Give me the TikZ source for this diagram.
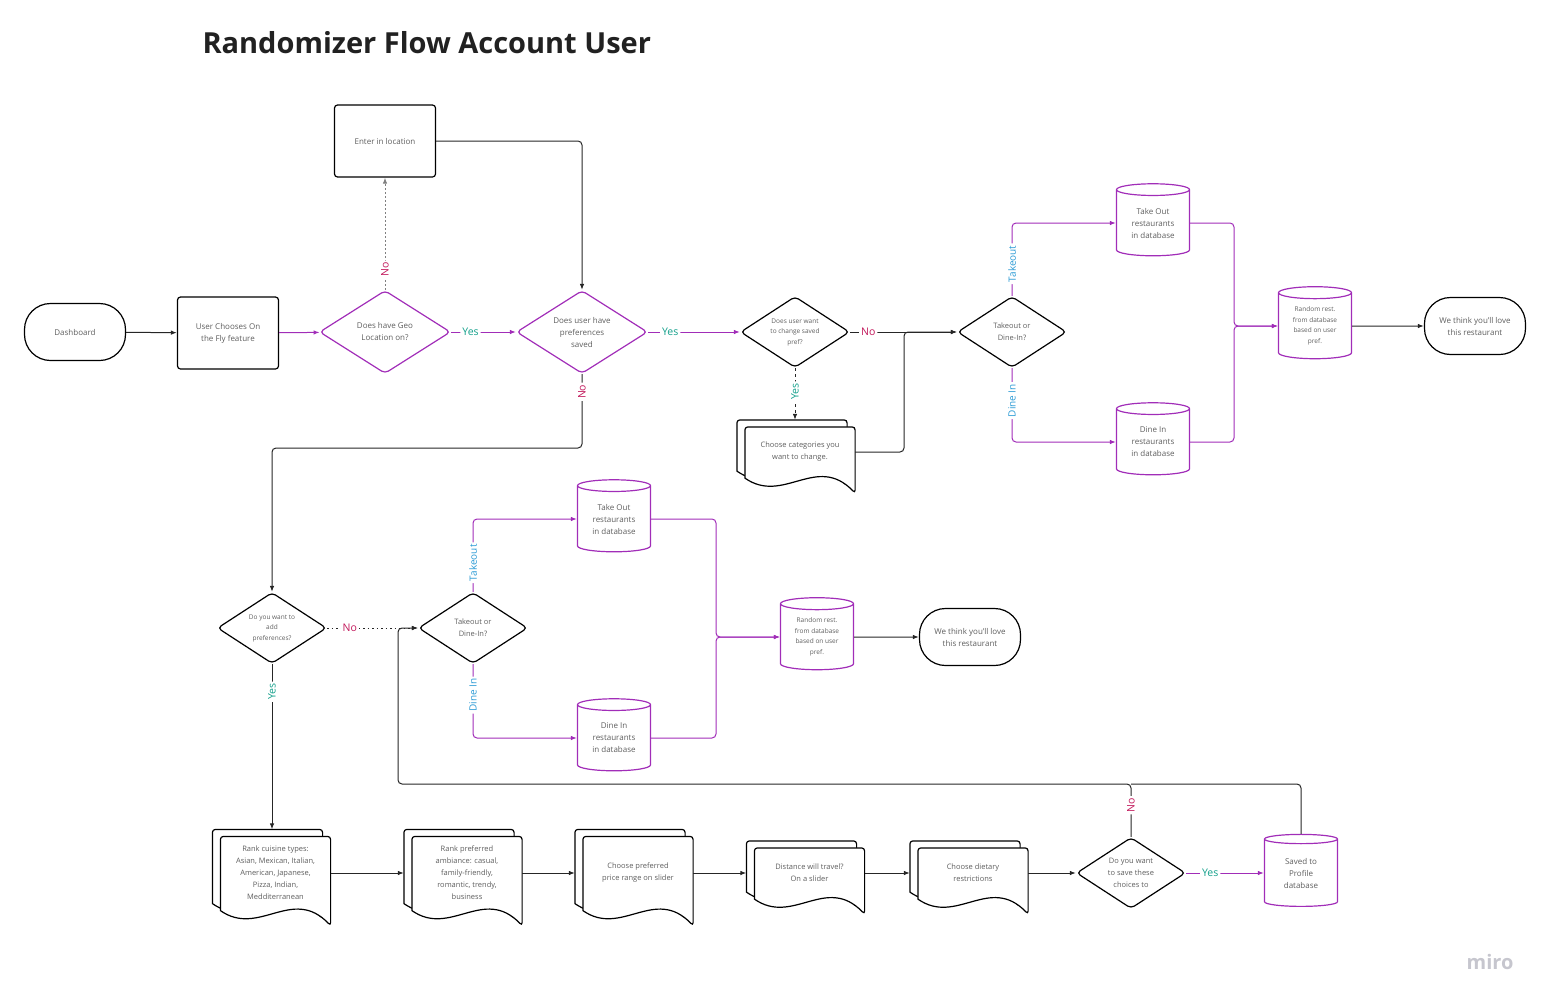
\documentclass[tikz,border=0pt]{standalone}
\usepackage{fontspec}
\setmainfont{Open Sans}
\usetikzlibrary{arrows.meta,shapes.geometric,calc}
\pgfdeclarelayer{background}
\pgfsetlayers{background,main}
\definecolor{flowpurple}{HTML}{A12DB8}
\definecolor{yesgreen}{HTML}{13A08B}
\definecolor{nored}{HTML}{C2185B}
\definecolor{takeblue}{HTML}{2E9CD6}
\definecolor{textgrey}{HTML}{5E5E5E}
\definecolor{mirogrey}{HTML}{C6C6CE}
\tikzset{base/.style={align=center,text=textgrey,font=\fontsize{8}{12}\selectfont,inner sep=0pt,line width=1.2pt},
	terminal/.style={base,draw,rounded corners=26pt,minimum width=101pt,minimum height=57pt},
	process/.style={base,draw,rounded corners=3pt,minimum width=101pt,minimum height=72pt},
	decision/.style={base,diamond,draw,rounded corners=4pt,aspect=1.5,minimum width=109pt,minimum height=71pt,font=\fontsize{7.5}{12}\selectfont},
	bigdecision/.style={decision,draw=flowpurple,minimum width=131pt,minimum height=83pt,font=\fontsize{8}{12}\selectfont},
	dbase/.style={base,cylinder,shape border rotate=90,aspect=0.27,draw=flowpurple,minimum width=73pt,minimum height=72pt},
	docsheet/.style={base,font=\fontsize{7.5}{12}\selectfont,minimum width=109pt,minimum height=49pt},
	tall/.style={minimum height=72pt},
	small/.style={font=\fontsize{6.5}{10.5}\selectfont},
	link/.style={line width=1pt,rounded corners=4pt},
	yeslabel/.style={text=yesgreen,fill=white,font=\fontsize{10.5}{12}\selectfont,inner sep=2pt},
	nolabel/.style={yeslabel,text=nored},
	optlabel/.style={yeslabel,text=takeblue,font=\fontsize{10}{12}\selectfont},
	hv/.style={to path={-| (\tikztotarget) \tikztonodes}},
	vh/.style={to path={|- (\tikztotarget) \tikztonodes}}}
% document sheet with wavy bottom, #2 is the offset of the sheet
\newcommand\docpage[2]{%
	\path[draw,fill=white,line width=1.2pt] let \p1=($(#1.north west)+(#2)$), \p2=($(#1.south east)+(#2)$), \n1={\x2-\x1} in
	[rounded corners=3pt] (\x1,\y1) -- (\x2,\y1) -- ({\x2},{\y2-16pt})
	[sharp corners] .. controls ({\x1+0.65*\n1},{\y2+24pt}) and ({\x1+0.35*\n1},{\y2-28pt}) .. ({\x1},{\y2-1pt})
	[rounded corners=3pt] -- cycle;}
\begin{document}
\begin{tikzpicture}[x=1pt,y=-1pt,>={Latex[length=6pt,width=4.5pt]}]
	\useasboundingbox (0,0) rectangle (1551,1007);
	\node[anchor=west,font=\fontsize{29}{34}\bfseries\selectfont,text=black!87] (title) at (199,43) {Randomizer Flow Account User};
	\node[text=mirogrey,font=\fontsize{20}{24}\bfseries\selectfont] (miro) at (1490,962) {miro};
	% upper flow
	\node[terminal] (dash) at (75,332) {Dashboard};
	\node[process] (onfly) at (228,333) {User Chooses On\\the Fly feature};
	\node[bigdecision] (geo) at (385,332) {Does have Geo\\Location on?};
	\node[process] (loc) at (385,141) {Enter in location};
	\node[bigdecision] (prefs) at (582,332) {Does user have\\preferences\\saved};
	\node[decision,small] (change) at (795,332) {Does user want\\to change saved\\pref?};
	\node[docsheet] (categ) at (800,452) {Choose categories you\\want to change.};
	\node[decision] (tk1) at (1012,332) {Takeout or\\Dine-In?};
	\node[dbase] (to1) at (1153,223) {Take Out\\restaurants\\in database};
	\node[dbase] (di1) at (1153,442) {Dine In\\restaurants\\in database};
	\node[dbase,small] (rnd1) at (1315,326) {Random rest.\\from database\\based on user\\pref.};
	\node[terminal] (love1) at (1475,326) {We think you'll love\\this restaurant};
	% middle flow
	\node[decision,small] (addp) at (272,628) {Do you want to\\add\\preferences?};
	\node[decision] (tk2) at (473,628) {Takeout or\\Dine-In?};
	\node[dbase] (to2) at (614,519) {Take Out\\restaurants\\in database};
	\node[dbase] (di2) at (614,738) {Dine In\\restaurants\\in database};
	\node[dbase,small] (rnd2) at (817,637) {Random rest.\\from database\\based on user\\pref.};
	\node[terminal] (love2) at (970,637) {We think you'll love\\this restaurant};
	% lower flow
	\node[docsheet,tall] (cuisine) at (275.5,873) {Rank cuisine types:\\Asian, Mexican, Italian,\\American, Japanese,\\Pizza, Indian,\\Medditerranean};
	\node[docsheet,tall] (ambiance) at (467,873) {Rank preferred\\ambiance: casual,\\family-friendly,\\romantic, trendy,\\business};
	\node[docsheet,tall] (price) at (638,873) {Choose preferred\\price range on slider};
	\node[docsheet] (dist) at (809.5,873) {Distance will travel?\\On a slider};
	\node[docsheet] (diet) at (973,873) {Choose dietary\\restrictions};
	\node[decision] (save) at (1131,873) {Do you want\\to save these\\choices to};
	\node[dbase] (saved) at (1301,873) {Saved to\\Profile\\database};
	\begin{pgfonlayer}{background}
		\foreach \d in {categ,cuisine,ambiance,price,dist,diet}{
			\docpage{\d}{-8pt,7pt}
			\docpage{\d}{0pt,0pt}
		}
	\end{pgfonlayer}
	\coordinate (j1) at (904,332);
	\coordinate (j2) at (1234,326);
	\coordinate (c3) at (582,448);
	\coordinate (j4) at (716,637);
	\coordinate (c6) at (398,784);
	\begin{scope}[every edge/.style={draw,link},black!85]
		\path [->] (dash) edge (onfly);
		\path [->,flowpurple] (onfly) edge (geo);
		\path [->,flowpurple] (geo) edge node[yeslabel,pos=0.3] {Yes} (prefs);
		\path [->,gray,dash pattern=on 2pt off 2pt] (geo) edge node[nolabel,rotate=90,pos=0.18] {No} (loc);
		\path [->] (loc.east) edge[hv] (prefs.north);
		\path [->,flowpurple] (prefs) edge node[yeslabel,pos=0.24] {Yes} (change);
		\path [->] (change) edge node[nolabel,pos=0.17] {No} (tk1);
		\path [->,dash pattern=on 3pt off 3pt] (change.south) edge[shorten >=7pt] node[yeslabel,rotate=90,pos=0.4] {Yes} (change.south |- categ.north);
		\draw [->,link] (categ.east) -| (j1) -- (tk1.west);
		\path [->,flowpurple] (tk1.north) edge[vh] node[optlabel,rotate=90,pos=0.22] {Takeout} (to1.west);
		\path [->,flowpurple] (tk1.south) edge[vh] node[optlabel,rotate=90,pos=0.22] {Dine In} (di1.west);
		\draw [->,link,flowpurple] (to1.east) -| (j2) -- (rnd1.west);
		\draw [->,link,flowpurple] (di1.east) -| (j2) -- (rnd1.west);
		\path [->] (rnd1) edge (love1);
		\draw [->,link] (prefs.south) -- node[nolabel,rotate=90,pos=0.24] {No} (c3) -| (addp.north);
		\path [->,dash pattern=on 1.5pt off 3pt] (addp) edge node[nolabel,pos=0.25] {No} (tk2);
		\path [->,flowpurple] (tk2.north) edge[vh] node[optlabel,rotate=90,pos=0.2] {Takeout} (to2.west);
		\path [->,flowpurple] (tk2.south) edge[vh] node[optlabel,rotate=90,pos=0.21] {Dine In} (di2.west);
		\draw [->,link,flowpurple] (to2.east) -| (j4) -- (rnd2.west);
		\draw [->,link,flowpurple] (di2.east) -| (j4) -- (rnd2.west);
		\path [->] (rnd2) edge (love2);
		\path [->] (addp.south) edge[shorten >=7pt] node[yeslabel,rotate=90,pos=0.16] {Yes} (addp.south |- cuisine.north);
		\path [->] (cuisine) edge[shorten >=8pt] (ambiance);
		\path [->] (ambiance) edge[shorten >=8pt] (price);
		\path [->] (price) edge[shorten >=8pt] (dist);
		\path [->] (dist) edge[shorten >=8pt] (diet);
		\path [->] (diet) edge (save);
		\path [->,flowpurple] (save) edge node[yeslabel,pos=0.31] {Yes} (saved);
		\draw [->,link] (save.north) |- node[nolabel,rotate=90,pos=0.3] {No} (c6) |- (tk2.west);
		\draw [link] (saved.north) |- (save.north |- c6);
	\end{scope}
\end{tikzpicture}
\end{document}
